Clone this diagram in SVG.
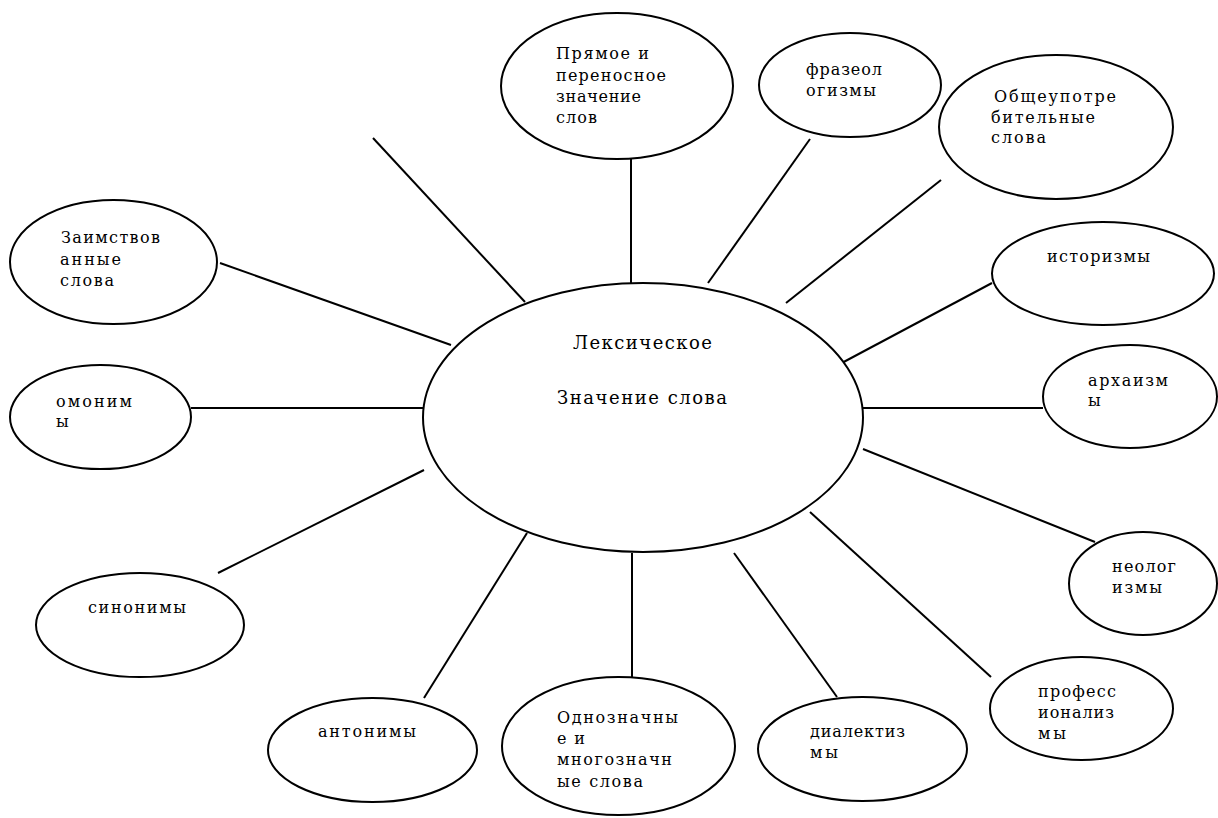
<svg xmlns="http://www.w3.org/2000/svg" width="1218" height="818" viewBox="0 0 1218 818">
<style>
.n{fill:#fff;stroke:#000;stroke-width:2}
.c line{stroke:#000;stroke-width:2}
text{font-family:"DejaVu Serif","Liberation Serif",serif;font-size:16px;fill:#000}
.big{font-size:18px}
</style>
<rect width="1218" height="818" fill="#fff"/>
<g class="c" id="connectors">
<line x1="631" y1="159" x2="631" y2="283"/>
<line x1="810" y1="139" x2="708" y2="283"/>
<line x1="941" y1="180" x2="786" y2="303"/>
<line x1="992" y1="283" x2="838" y2="365"/>
<line x1="863" y1="408" x2="1043" y2="408"/>
<line x1="863" y1="449" x2="1095" y2="542"/>
<line x1="810" y1="512" x2="991" y2="677"/>
<line x1="734" y1="553" x2="837" y2="697"/>
<line x1="632" y1="553" x2="632" y2="677"/>
<line x1="527" y1="533" x2="424" y2="698"/>
<line x1="424" y1="470" x2="218" y2="573"/>
<line x1="191" y1="408" x2="424" y2="408"/>
<line x1="220" y1="263" x2="451" y2="345"/>
<line x1="373" y1="138" x2="525" y2="302"/>
</g>
<g id="center">
<ellipse class="n" cx="643" cy="417.5" rx="220" ry="134.5"/>
<text class="big" x="573" y="349" textLength="139" lengthAdjust="spacing">Лексическое</text>
<text class="big" x="557" y="404" textLength="170" lengthAdjust="spacing">Значение слова</text>
</g>
<g id="pryamoe">
<ellipse class="n" cx="617" cy="86" rx="116" ry="73"/>
<text x="556" y="59" textLength="93" lengthAdjust="spacing">Прямое и</text>
<text x="556" y="81" textLength="110" lengthAdjust="spacing">переносное</text>
<text x="556" y="102" textLength="85" lengthAdjust="spacing">значение</text>
<text x="556" y="123" textLength="41" lengthAdjust="spacing">слов</text>
</g>
<g id="frazeol">
<ellipse class="n" cx="850" cy="85" rx="91" ry="52"/>
<text x="806" y="75" textLength="76" lengthAdjust="spacing">фразеол</text>
<text x="806" y="96" textLength="70" lengthAdjust="spacing">огизмы</text>
</g>
<g id="obshche">
<ellipse class="n" cx="1056" cy="127" rx="117" ry="72"/>
<text x="994" y="102" textLength="122" lengthAdjust="spacing">Общеупотре</text>
<text x="991" y="123" textLength="104" lengthAdjust="spacing">бительные</text>
<text x="991" y="143" textLength="55" lengthAdjust="spacing">слова</text>
</g>
<g id="istorizmy">
<ellipse class="n" cx="1103" cy="273.5" rx="111" ry="51.5"/>
<text x="1047" y="262" textLength="103" lengthAdjust="spacing">историзмы</text>
</g>
<g id="arhaizmy">
<ellipse class="n" cx="1130" cy="396.5" rx="87" ry="51.5"/>
<text x="1088" y="386" textLength="80" lengthAdjust="spacing">архаизм</text>
<text x="1088" y="406">ы</text>
</g>
<g id="neologizmy">
<ellipse class="n" cx="1143" cy="583.5" rx="74" ry="51.5"/>
<text x="1112" y="572" textLength="64" lengthAdjust="spacing">неолог</text>
<text x="1112" y="593" textLength="50" lengthAdjust="spacing">измы</text>
</g>
<g id="professionalizmy">
<ellipse class="n" cx="1081.5" cy="708.5" rx="91.5" ry="51.5"/>
<text x="1038" y="697" textLength="78" lengthAdjust="spacing">професс</text>
<text x="1038" y="718" textLength="76" lengthAdjust="spacing">ионализ</text>
<text x="1038" y="739" textLength="28" lengthAdjust="spacing">мы</text>
</g>
<g id="dialektizmy">
<ellipse class="n" cx="862.5" cy="749" rx="104.5" ry="52"/>
<text x="810" y="737" textLength="95" lengthAdjust="spacing">диалектиз</text>
<text x="810" y="758" textLength="28" lengthAdjust="spacing">мы</text>
</g>
<g id="odnoznachnye">
<ellipse class="n" cx="618.5" cy="746" rx="116.5" ry="69"/>
<text x="557" y="723" textLength="121" lengthAdjust="spacing">Однозначны</text>
<text x="557" y="744" textLength="28" lengthAdjust="spacing">е и</text>
<text x="557" y="765" textLength="115" lengthAdjust="spacing">многозначн</text>
<text x="557" y="787" textLength="86" lengthAdjust="spacing">ые слова</text>
</g>
<g id="antonimy">
<ellipse class="n" cx="372.5" cy="750" rx="104.5" ry="52"/>
<text x="318" y="737" textLength="98" lengthAdjust="spacing">антонимы</text>
</g>
<g id="sinonimy">
<ellipse class="n" cx="140" cy="625" rx="104" ry="52"/>
<text x="88" y="613" textLength="98" lengthAdjust="spacing">синонимы</text>
</g>
<g id="omonimy">
<ellipse class="n" cx="100.5" cy="417" rx="90.5" ry="52"/>
<text x="56" y="407" textLength="76" lengthAdjust="spacing">омоним</text>
<text x="56" y="427">ы</text>
</g>
<g id="zaimstvovannye">
<ellipse class="n" cx="113.5" cy="262" rx="103.5" ry="62"/>
<text x="61" y="243" textLength="99" lengthAdjust="spacing">Заимствов</text>
<text x="60" y="265" textLength="61" lengthAdjust="spacing">анные</text>
<text x="60" y="286" textLength="54" lengthAdjust="spacing">слова</text>
</g>
</svg>
